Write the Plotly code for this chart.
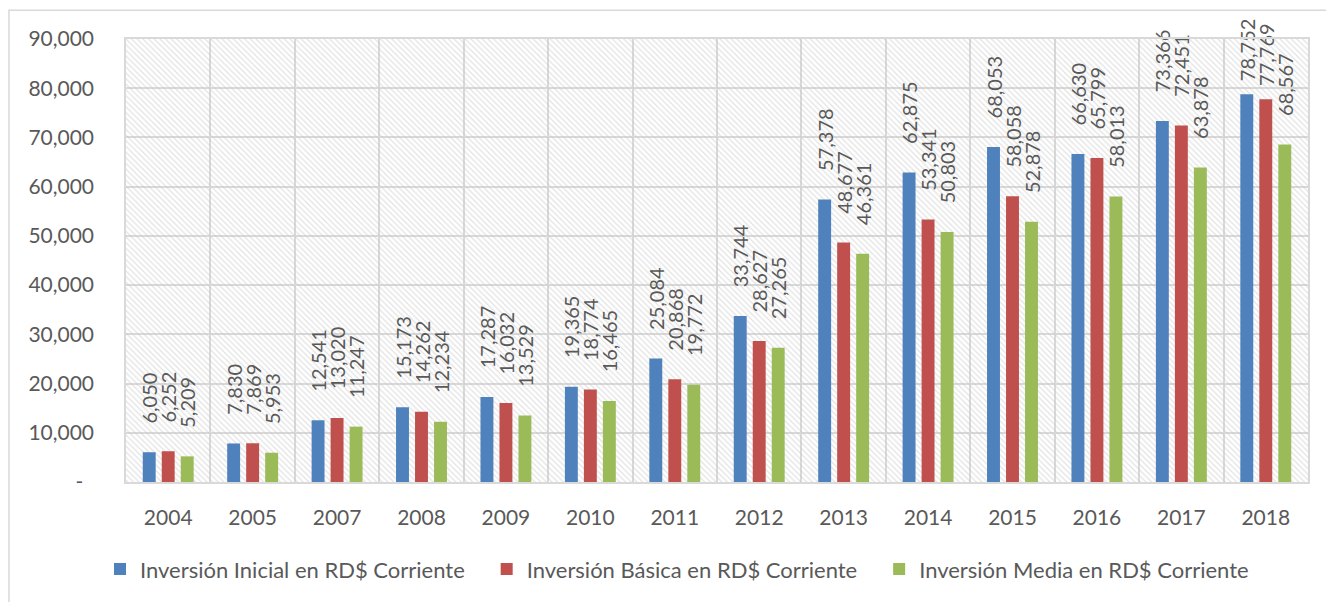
import plotly.graph_objects as go

years = ["2004", "2005", "2007", "2008", "2009", "2010", "2011", "2012",
         "2013", "2014", "2015", "2016", "2017", "2018"]
inicial = [6050, 7830, 12541, 15173, 17287, 19365, 25084, 33744,
           57378, 62875, 68053, 66630, 73366, 78752]
basica = [6252, 7869, 13020, 14262, 16032, 18774, 20868, 28627,
          48677, 53341, 58058, 65799, 72451, 77769]
media = [5209, 5953, 11247, 12234, 13529, 16465, 19772, 27265,
         46361, 50803, 52878, 58013, 63878, 68567]
series_names = ["Inversión Inicial en RD$ Corriente",
                "Inversión Básica en RD$ Corriente",
                "Inversión Media en RD$ Corriente"]
colors = ["#4F81BD", "#C0504D", "#9BBB59"]
y_ticks = [0, 10000, 20000, 30000, 40000, 50000, 60000, 70000, 80000, 90000]
y_ticktext = ["-\u00a0\u00a0"] + [f"{v:,}" for v in y_ticks[1:]]

FONT = "Lato"
TXT = "#595959"
GRID = "#d9d9d9"

fig = go.Figure()

# hatched plot-area background (on base axes, drawn beneath the data)
fig.add_trace(go.Bar(
    x=[0.5], y=[1], width=[1], xaxis="x", yaxis="y",
    marker=dict(color="rgba(0,0,0,0)", line=dict(width=0),
                pattern=dict(shape="\\", fgcolor="#c6c6c6", bgcolor="rgba(0,0,0,0)",
                             size=4, solidity=0.3, fillmode="overlay")),
    hoverinfo="skip", showlegend=False,
))


def label(v):
    # labels near the top of the chart are pulled closer to the bar (as Excel does)
    pad = "\u00a0" * (2 if v > 75000 else 5)
    return f"{pad}{v:,}"


for name, vals, col in zip(series_names, [inicial, basica, media], colors):
    fig.add_trace(go.Bar(
        x=years, y=vals, name=name + "\u00a0" * 3, xaxis="x2", yaxis="y2",
        marker=dict(color=col, line=dict(width=0)),
        text=[label(v) for v in vals],
        textposition="outside", textangle=-90, constraintext="none",
        cliponaxis=False,
        textfont=dict(family=FONT, size=20, color=TXT),
    ))

fig.update_layout(
    width=1326, height=602,
    margin=dict(l=126, r=18, t=39, b=115),
    paper_bgcolor="white", plot_bgcolor="white",
    barmode="group", bargap=0.325, bargroupgap=0.32,
    font=dict(family=FONT, size=21, color=TXT),
    xaxis=dict(range=[0, 1], visible=False, fixedrange=True),
    yaxis=dict(range=[0, 1], visible=False, fixedrange=True),
    xaxis2=dict(overlaying="x", anchor="y2", type="category",
                showgrid=True, gridcolor=GRID, gridwidth=1.5, tickson="boundaries",
                ticks="", showline=True, linecolor=GRID, linewidth=1.5, mirror=True,
                tickfont=dict(family=FONT, size=21, color=TXT),
                ticklabelstandoff=16),
    yaxis2=dict(overlaying="y", anchor="x2", range=[0, 90000],
                tickvals=y_ticks, ticktext=y_ticktext,
                showgrid=True, gridcolor=GRID, gridwidth=1.5, zeroline=False,
                showline=True, linecolor=GRID, linewidth=1.5, mirror=True,
                ticks="", tickfont=dict(family=FONT, size=21, color=TXT),
                ticklabelstandoff=26),
    legend=dict(orientation="h", x=-0.022, xanchor="left", y=-0.197, yanchor="middle",
                font=dict(family=FONT, size=22, color=TXT),
                itemwidth=30, tracegroupgap=0),
    shapes=[dict(type="rect", xref="paper", yref="paper",
                 x0=-0.099, x1=1.03, y0=-0.3, y1=1.0647,
                 line=dict(color=GRID, width=1.5), fillcolor="rgba(0,0,0,0)",
                 layer="below")],
)

fig.write_html("out.html", config={"displayModeBar": False},
               post_script="document.body.style.margin='0';")
